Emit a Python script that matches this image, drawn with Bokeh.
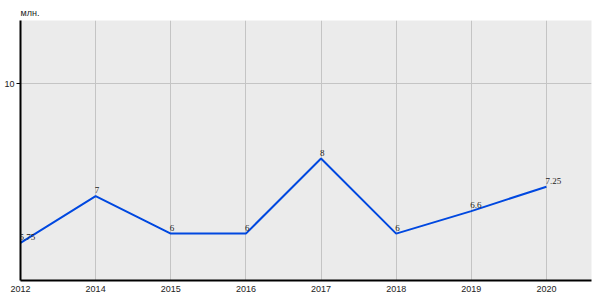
from bokeh.plotting import figure
from bokeh.models import ColumnDataSource, FixedTicker, Range1d, LabelSet
from bokeh.embed import file_html
from bokeh.resources import INLINE

years = ["2012", "2014", "2015", "2016", "2017", "2018", "2019", "2020"]
values = [5.75, 7, 6, 6, 8, 6, 6.6, 7.25]
value_labels = ["5.75", "7", "6", "6", "8", "6", "6.6", "7.25"]
y_ticks = [10]

xs = list(range(len(years)))
src = ColumnDataSource(dict(x=xs, y=values, lab=value_labels))

p = figure(width=600, height=300, output_backend="svg", toolbar_location=None,
           x_range=Range1d(0, 7.6), y_range=Range1d(4.75, 11.68),
           min_border_left=20, min_border_right=9, min_border_top=20, min_border_bottom=20)
p.background_fill_color = "#ebebeb"
p.border_fill_color = "white"
p.outline_line_color = None

p.line("x", "y", source=src, line_color="#0048e0", line_width=2)

labels = LabelSet(x="x", y="y", text="lab", source=src, text_align="left",
                  text_baseline="bottom", y_offset=3, x_offset=-1,
                  text_font="Liberation Sans", text_font_size="9px", text_color="#222222")
p.add_layout(labels)

p.xaxis.ticker = FixedTicker(ticks=xs)
p.xaxis.major_label_overrides = {i: y for i, y in enumerate(years)}
p.xaxis.major_tick_out = 0
p.xaxis.major_tick_in = 0
p.xaxis.minor_tick_line_color = None
p.xaxis.major_label_standoff = 5
p.xaxis.axis_line_color = "black"
p.xaxis.axis_line_width = 2

p.yaxis.ticker = FixedTicker(ticks=y_ticks)
p.yaxis.major_tick_out = 4
p.yaxis.major_tick_in = 0
p.yaxis.minor_tick_line_color = None
p.yaxis.major_label_standoff = 2
p.yaxis.axis_line_color = "black"
p.yaxis.axis_line_width = 2

for ax in (p.xaxis, p.yaxis):
    ax.major_label_text_font = "Liberation Sans"
    ax.major_label_text_font_size = "9px"
    ax.major_label_text_color = "#222222"

p.xgrid.ticker = FixedTicker(ticks=xs)
p.xgrid.grid_line_color = "#c4c4c4"
p.ygrid.ticker = FixedTicker(ticks=y_ticks)
p.ygrid.grid_line_color = "#c4c4c4"

p.title.text = "млн."
p.title.align = "left"
p.title.text_font = "Liberation Sans"
p.title.text_font_size = "9px"
p.title.text_font_style = "normal"
p.title.text_color = "#222222"
p.title.standoff = 6

open("out.html", "w").write(file_html(p, INLINE))
